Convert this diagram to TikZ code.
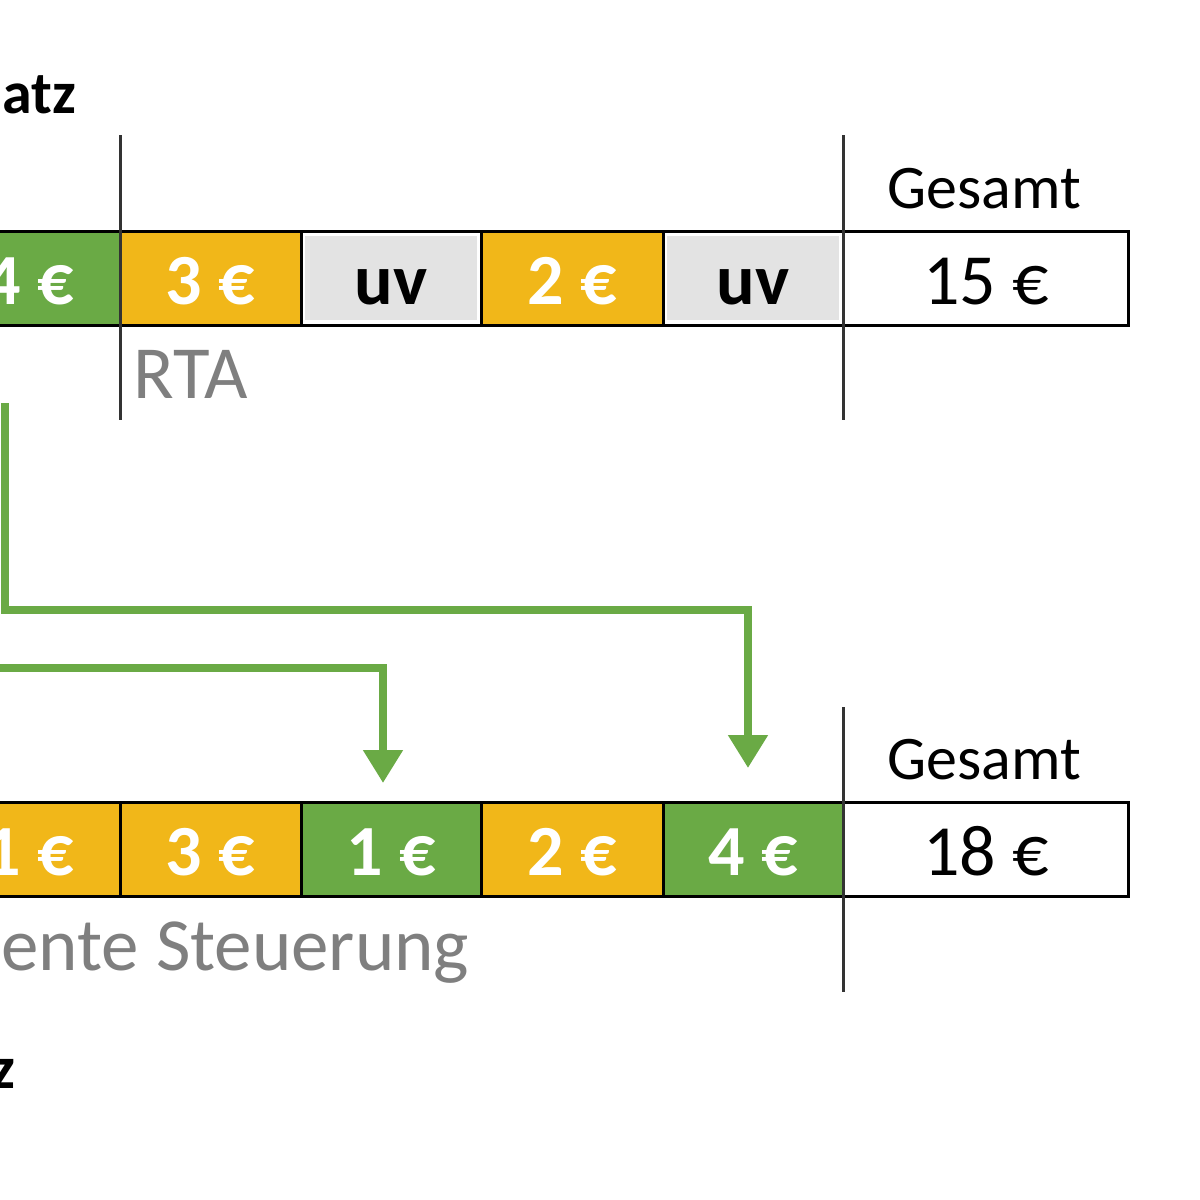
\documentclass[tikz,border=0pt]{standalone}
\usepackage{fontspec}
\setmainfont{Carlito}
\usetikzlibrary{arrows.meta}
\definecolor{cgreen}{HTML}{6AAA45}
\definecolor{corange}{HTML}{F1B719}
\definecolor{cgray}{HTML}{E3E3E3}
\definecolor{cdark}{HTML}{333333}
\definecolor{clabel}{HTML}{7F7F7F}
\tikzset{
  frameline/.style={draw=black, line width=1.5pt},
  divider/.style={draw=cdark, line width=1.5pt},
  celltext/.style={anchor=base, inner sep=0pt, text=white, font=\bfseries\fontsize{36}{40}\selectfont},
  totaltext/.style={anchor=base, inner sep=0pt, text=black, font=\fontsize{36}{40}\selectfont},
  uvtext/.style={anchor=base, inner sep=0pt, text=black, font=\bfseries\fontsize{36}{40}\selectfont},
  headtext/.style={anchor=base, inner sep=0pt, text=black, font=\fontsize{31}{36}\selectfont},
  labeltext/.style={anchor=base west, inner sep=0pt, text=clabel, font=\fontsize{37.5}{42}\selectfont},
  titletext/.style={anchor=base east, inner sep=0pt, text=black, font=\bfseries\fontsize{30}{36}\selectfont},
  flow/.style={draw=cgreen, line width=4pt, line join=miter, -{Triangle[width=19pt,length=16.5pt]}}
}
\begin{document}
\begin{tikzpicture}[x=0.5pt,y=-0.5pt]
\useasboundingbox (0,0) rectangle (1200,1200);
\clip (0,0) rectangle (1200,1200);
\fill[white] (0,0) rectangle (1200,1200);

% titles
\node[titletext] (t1) at (77,113) {atz};
\node[titletext] (t2) at (16,1088) {z};

% ---------- top row ----------
\fill[cgreen]  (-60,231) rectangle (120,325);
\fill[corange] (120,231) rectangle (301,325);
\fill[cgray]   (305,236) rectangle (477,320);
\fill[corange] (481,231) rectangle (663,325);
\fill[cgray]   (667,236) rectangle (839,320);
\draw[frameline] (-60,231) rectangle (1128,325);
\draw[frameline] (301,231) -- (301,325);
\draw[frameline] (481,231) -- (481,325);
\draw[frameline] (663,231) -- (663,325);

\node[celltext] (u1) at (29,304) {4 €};
\node[celltext] (u2) at (210,304) {3 €};
\node[uvtext]   (u3) at (391,304) {uv};
\node[celltext] (u4) at (572,304) {2 €};
\node[uvtext]   (u5) at (753,304) {uv};
\node[totaltext] (u6) at (986,304) {15 €};
\node[headtext] (h1) at (984,208) {Gesamt};
\node[labeltext] (l1) at (133,398) {RTA};

\draw[divider] (120,135) -- (120,420);
\draw[divider] (843,135) -- (843,420);

% ---------- bottom row ----------
\fill[corange] (-60,802) rectangle (120,896);
\fill[corange] (120,802) rectangle (301,896);
\fill[cgreen]  (301,802) rectangle (481,896);
\fill[corange] (481,802) rectangle (663,896);
\fill[cgreen]  (663,802) rectangle (843,896);
\draw[frameline] (-60,802) rectangle (1128,896);
\draw[frameline] (120,802) -- (120,896);
\draw[frameline] (301,802) -- (301,896);
\draw[frameline] (481,802) -- (481,896);
\draw[frameline] (663,802) -- (663,896);

\node[celltext] (b1) at (29,875) {1 €};
\node[celltext] (b2) at (210,875) {3 €};
\node[celltext] (b3) at (391,875) {1 €};
\node[celltext] (b4) at (572,875) {2 €};
\node[celltext] (b5) at (753,875) {4 €};
\node[totaltext] (b6) at (986,875) {18 €};
\node[headtext] (h2) at (984,779) {Gesamt};
\node[labeltext] (l2) at (1,970) {ente Steuerung};

\draw[divider] (843,707) -- (843,992);

% ---------- arrows ----------
\coordinate (a1s) at (5,403);
\coordinate (a1k) at (748,610);
\coordinate (a1e) at (748,768);
\coordinate (a2s) at (-10,668);
\coordinate (a2k) at (383,668);
\coordinate (a2e) at (383,783);
\draw[flow] (a1s) |- (a1k) -- (a1e);
\draw[flow] (a2s) -- (a2k) -- (a2e);
\end{tikzpicture}
\end{document}
